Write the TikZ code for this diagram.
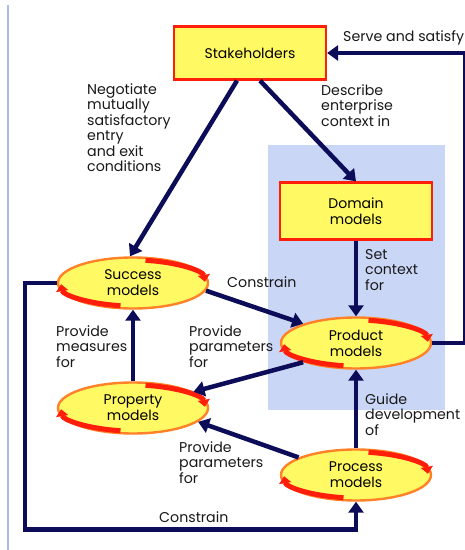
\documentclass[tikz,border=0pt]{standalone}
\usepackage{fontspec}
\setmainfont{Poppins}
\usetikzlibrary{shapes, positioning, arrows.meta}
\definecolor{navy}{RGB}{12,12,88}
\definecolor{pale}{RGB}{255,250,100}
\definecolor{rim}{RGB}{255,30,10}
\definecolor{glow}{RGB}{255,130,40}
\definecolor{bluebg}{RGB}{202,214,246}
\definecolor{edge}{RGB}{170,186,240}
\tikzset{x=1pt, y=1pt, node distance=132pt,
  block/.style={rectangle, fill=pale, draw=rim, line width=2.2pt, minimum width=152pt, minimum height=53pt, align=center, font=\fontsize{14}{16}\selectfont},
  model/.style={ellipse, fill=pale, draw=glow, line width=2.4pt, minimum width=150pt, minimum height=51pt, inner sep=0pt, align=center, font=\fontsize{14}{16}\selectfont},
  link/.style={draw=navy, line width=4.5pt, -{Triangle[width=15pt,length=11pt]}},
  note/.style={anchor=north west, align=left, inner sep=0pt, text=black!90, font=\fontsize{14.2}{15.5}\selectfont}}
% red turning rim on an ellipse
\newcommand{\spin}[1]{
  \draw[rim, line width=5pt, -{Triangle[width=12pt,length=7pt]}]
    ([shift={(#1.center)}]80:72pt and 23pt) arc[start angle=80, end angle=3, x radius=72pt, y radius=23pt];
  \draw[rim, line width=5pt, -{Triangle[width=12pt,length=7pt]}]
    ([shift={(#1.center)}]260:72pt and 23pt) arc[start angle=260, end angle=183, x radius=72pt, y radius=23pt];
}

\begin{document}
\begin{tikzpicture}
    \useasboundingbox[fill=white] (0,0) rectangle (465,550);
    \fill[bluebg] (268,140) rectangle (445,405);
    \draw[edge, line width=1.5pt] (8,0) -- (8,545);

    \node[block] (stake) at (250,497) {Stakeholders};
    \node[block, minimum height=57pt] (domain) at (356,339) {Domain\\models};
    \node[model, below of=domain] (product) {Product\\models};
    \node[model, below of=product] (process) {Process\\models};
    \node[model] (success) at (133,267) {Success\\models};
    \node[model, below of=success, node distance=125pt] (property) {Property\\models};
    \spin{product} \spin{process} \spin{success} \spin{property}

    \draw[link] ([xshift=-13pt]stake.south) -- ([xshift=-3pt]success.north);
    \draw[link] ([xshift=10pt]stake.south) -- (domain.north);
    \draw[link] (domain.south) -- (product.north);
    \draw[link] (success.-6) -- (product.160);
    \draw[link] (product.200) -- (property.15);
    \draw[link] (property.north) -- (success.south);
    \draw[link] (process.163) -- (property.-12);
    \draw[link] (process.north) -- (product.south);
    \draw[link] (success.west) -- ++(-32,0) |- ([yshift=-28pt]process.south) -- (process.south);
    \draw[link] (product.east) -- ++(33,0) |- (stake.east);

    \node[note, anchor=west] (serve) at (343,512) {Serve and satisfy};
    \node[note] (negotiate) at (87,467) {Negotiate\\mutually\\satisfactory\\entry\\and exit\\conditions};
    \node[note] (describe) at (321,466) {Describe\\enterprise\\context in};
    \node[note] (setctx) at (365,301) {Set\\context\\for};
    \node[note, anchor=west] (constrtop) at (227,268) {Constrain};
    \node[note] (paramtop) at (189,225) {Provide\\parameters\\for};
    \node[note] (measures) at (56,225) {Provide\\measures\\for};
    \node[note] (guide) at (365,157) {Guide\\development\\of};
    \node[note] (parambot) at (179,109) {Provide\\parameters\\for};
    \node[note, anchor=west] (constrbot) at (159,33) {Constrain};
\end{tikzpicture}
\end{document}
